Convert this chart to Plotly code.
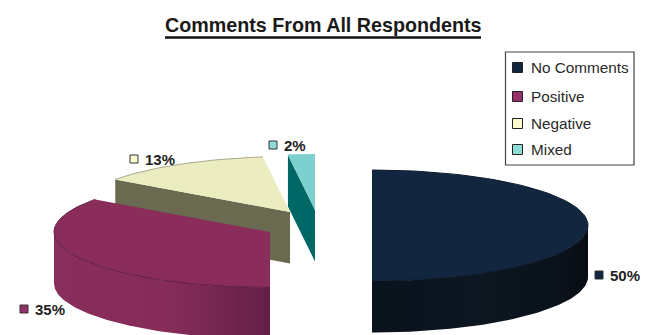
import numpy as np
import plotly.graph_objects as go

# Survey results
categories = ["No Comments", "Positive", "Negative", "Mixed"]
values = [50, 35, 13, 2]

# Colours per slice: top face, side gradient, rim line
top_colors = ["#12263f", "#8b2d5b", "#ebecc0", "#7dd0ce"]
side_stops = [
    [[0, "#0a121c"], [0.5, "#0c1721"], [0.85, "#0a121b"], [1, "#080d14"]],
    [[0, "#8a2e5c"], [0.55, "#852c59"], [1, "#631f48"]],
    [[0, "#6a6a50"], [1, "#6a6a50"]],
    [[0, "#006767"], [1, "#006767"]],
]
rim_colors = ["#0c1a2b", "#5e1c42", "#a9a98c", "#7dd0ce"]
swatch_colors = ["#12263f", "#96306a", "#fbfbcf", "#8edcd8"]

# Projected pie geometry, in the 650x335 canvas coordinate system
RX, RY, DEPTH = 216, 55.5, 51.5
apexes = [(372, 225.5), (270, 232), (290, 212), (315, 210)]
label_pos = [(599, 275), (24, 309), (134, 159), (273, 145)]
legend_y = [67.5, 96.5, 123.5, 149.5]


def rim(cx, cy, a0, a1, n=90, dy=0.0):
    t = np.radians(np.linspace(a0, a1, n))
    return cx + RX * np.sin(t), cy - RY * np.cos(t) + dy


def face(x, y, color=None, gradient=None):
    kw = dict(fillcolor=color) if color else dict(fillgradient=gradient)
    return go.Scatter(
        x=list(x), y=list(y), mode="lines", fill="toself",
        line=dict(color="rgba(0,0,0,0)", width=0),
        hoverinfo="skip", showlegend=False, **kw,
    )


# Slice angles run clockwise from twelve o'clock
ends = np.cumsum(values) / sum(values) * 360
starts = np.r_[0, ends[:-1]]
slices = list(zip(starts, ends, apexes, top_colors, side_stops, rim_colors))

fig = go.Figure()

# Back-to-front: Mixed, No Comments, Negative, Positive
for i in [3, 0, 2, 1]:
    a0, a1, (cx, cy), top, stops, edge = slices[i]

    # Cut wall facing the viewer, hanging from the leading radius
    if i in (2, 3):
        ex = cx + RX * np.sin(np.radians(a0))
        ey = cy - RY * np.cos(np.radians(a0))
        fig.add_trace(face([cx, ex, ex, cx, cx], [cy, ey, ey + DEPTH, cy + DEPTH, cy], color=stops[0][1]))

    # Outer wall along the front of the rim
    lo, hi = max(a0, 90), min(a1, 270)
    if hi > lo:
        xs, ys = rim(cx, cy, lo, hi)
        xb, yb = rim(cx, cy, hi, lo, dy=DEPTH)
        fig.add_trace(face(
            np.r_[xs, xb, xs[0]], np.r_[ys, yb, ys[0]],
            gradient=dict(type="horizontal", colorscale=stops),
        ))

    # Top face with a thin line on its curved edge
    xt, yt = rim(cx, cy, a0, a1)
    fig.add_trace(face(np.r_[cx, xt, cx], np.r_[cy, yt, cy], color=top))
    fig.add_trace(go.Scatter(
        x=xt, y=yt, mode="lines", line=dict(color=edge, width=1),
        hoverinfo="skip", showlegend=False,
    ))

# Percentage labels with their colour keys
for cat, v, (lx, ly), c in zip(categories, values, label_pos, swatch_colors):
    fig.add_trace(go.Scatter(
        x=[lx], y=[ly], mode="markers", name=cat, hoverinfo="skip", showlegend=False,
        marker=dict(symbol="square", size=8, color=c, line=dict(color="#333333", width=1)),
    ))
    fig.add_annotation(
        x=lx + 8.5, y=ly, text=f"<b>{v}%</b>", showarrow=False, xanchor="left", yanchor="middle",
        font=dict(family="Liberation Sans", size=15, color="#222222"),
    )

# Legend entries
for cat, ly, c in zip(categories, legend_y, swatch_colors):
    fig.add_trace(go.Scatter(
        x=[517.5], y=[ly], mode="markers", name=cat, hoverinfo="skip", showlegend=False,
        marker=dict(symbol="square", size=10, color=c, line=dict(color="#222222", width=1)),
    ))
    fig.add_annotation(
        x=528.5, y=ly, text=cat, showarrow=False, xanchor="left", yanchor="middle",
        font=dict(family="Liberation Sans", size=15.3, color="#2a2a2a"),
    )

# Title
fig.add_annotation(
    x=323, y=24.5, text="<b>Comments From All Respondents</b>", showarrow=False,
    xanchor="center", yanchor="middle",
    font=dict(family="Liberation Sans", size=19.7, color="#1a1a1a"),
)

fig.update_layout(
    width=650, height=335, margin=dict(l=0, r=0, t=0, b=0),
    paper_bgcolor="white", plot_bgcolor="white", showlegend=False,
    xaxis=dict(range=[0, 650], visible=False, fixedrange=True),
    yaxis=dict(range=[335, 0], visible=False, fixedrange=True),
    shapes=[
        dict(type="line", x0=165, x1=481, y0=37.5, y1=37.5, line=dict(color="#111111", width=2.5)),
        dict(type="rect", x0=505.5, x1=634, y0=52, y1=165, line=dict(color="#444444", width=1.2)),
    ],
)

fig.write_html("out.html")
